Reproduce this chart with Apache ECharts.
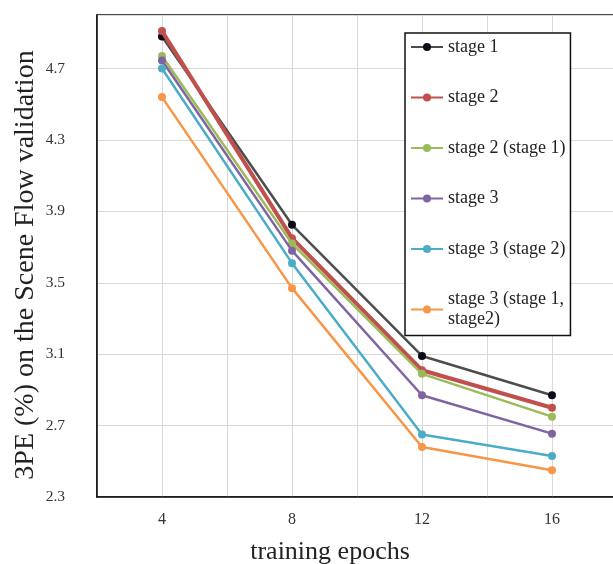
<!DOCTYPE html>
<html>
<head>
<meta charset="utf-8">
<script src="https://cdn.jsdelivr.net/npm/echarts@6/dist/echarts.min.js"></script>
<style>html,body{margin:0;padding:0;background:#fff}#c{width:613px;height:564px}</style>
</head>
<body>
<div id="c"></div>
<script>
const epochs = [4, 8, 12, 16];
const seriesNames = ['stage 1', 'stage 2', 'stage 2 (stage 1)', 'stage 3', 'stage 3 (stage 2)', 'stage 3 (stage 1, stage2)'];
const stage1 = [4.88, 3.825, 3.09, 2.87];
const stage2 = [4.91, 3.75, 3.01, 2.80];
const stage2from1 = [4.77, 3.72, 2.99, 2.75];
const stage3 = [4.745, 3.68, 2.87, 2.655];
const stage3from2 = [4.70, 3.61, 2.65, 2.53];
const stage3from12 = [4.54, 3.47, 2.58, 2.45];
const xTickLabels = [4, 8, 12, 16];
const yTickLabels = ['2.3', '2.7', '3.1', '3.5', '3.9', '4.3', '4.7'];

const allValues = [stage1, stage2, stage2from1, stage3, stage3from2, stage3from12];
const lineColors = ['#4d4d4d', '#c0504d', '#9bbb59', '#8064a2', '#4bacc6', '#f79646'];
const markColors = ['#0d0d1a', '#c0504d', '#9bbb59', '#8064a2', '#4bacc6', '#f79646'];
const widths = [2.5, 4, 2.5, 2.5, 2.5, 2.5];
const serif = '"Liberation Serif", "DejaVu Serif", serif';

const chart = echarts.init(document.getElementById('c'), null, {renderer: 'canvas'});
chart.setOption({
  animation: false,
  backgroundColor: '#ffffff',
  grid: {
    left: 97, top: 15, right: -4, bottom: 67,
    containLabel: false, outerBoundsMode: 'none',
    show: true, borderColor: '#111', borderWidth: 1.5, backgroundColor: 'transparent'
  },
  legend: {
    orient: 'vertical',
    left: 405, top: 33,
    padding: [4, 5, 6, 5],
    itemWidth: 32, itemHeight: 10, itemGap: 30.5,
    backgroundColor: '#fff',
    borderColor: '#111', borderWidth: 1.5,
    data: seriesNames,
    formatter: function (n) { return n === 'stage 3 (stage 1, stage2)' ? 'stage 3 (stage 1,\nstage2)' : n; },
    textStyle: { fontFamily: serif, fontSize: 18, color: '#222', lineHeight: 20 }
  },
  xAxis: {
    type: 'value', min: 2, max: 18, interval: 2,
    axisLine: { show: true, lineStyle: { color: '#111', width: 1.5 } },
    axisTick: { show: false },
    splitLine: { show: true, lineStyle: { color: '#d9d9d9', width: 1 } },
    axisLabel: {
      margin: 15, fontFamily: serif, fontSize: 16, color: '#333',
      formatter: function (v) { return xTickLabels.indexOf(Math.round(v)) >= 0 && Math.abs(v - Math.round(v)) < 1e-6 ? String(Math.round(v)) : ''; }
    },
    name: 'training epochs', nameLocation: 'middle', nameGap: 42, nameMoveOverlap: false,
    nameTextStyle: { fontFamily: serif, fontSize: 26, color: '#222', padding: [0, 54, 0, 0] }
  },
  yAxis: {
    type: 'value', min: 2.3, max: 5.0, interval: 0.4,
    axisLine: { show: true, lineStyle: { color: '#111', width: 1.5 } },
    axisTick: { show: false },
    splitLine: { show: true, lineStyle: { color: '#d9d9d9', width: 1 } },
    axisLabel: {
      margin: 32, fontFamily: serif, fontSize: 15.5, color: '#333',
      showMaxLabel: false,
      formatter: function (v) { const s = v.toFixed(1); return yTickLabels.indexOf(s) >= 0 ? s : ''; }
    },
    name: '3PE (%) on the Scene Flow validation', nameLocation: 'middle', nameGap: 57, nameMoveOverlap: false,
    nameTextStyle: { fontFamily: serif, fontSize: 28, color: '#222', padding: [0, 18, 0, 0] }
  },
  series: seriesNames.map(function (name, i) {
    return {
      name: name, type: 'line',
      data: epochs.map(function (e, j) { return [e, allValues[i][j]]; }),
      symbol: 'circle', symbolSize: 8,
      lineStyle: { color: lineColors[i], width: widths[i] },
      itemStyle: { color: markColors[i], borderWidth: 0 },
      z: 2 + i
    };
  })
});
</script>
</body>
</html>
